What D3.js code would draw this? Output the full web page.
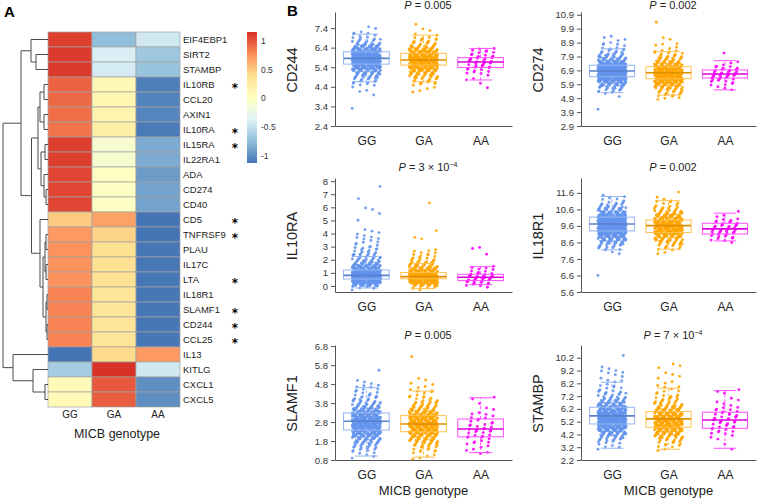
<!DOCTYPE html>
<html>
<head>
<meta charset="utf-8">
<script src="https://cdn.jsdelivr.net/npm/d3@7/dist/d3.min.js"></script>
<style>
  body { margin: 0; background: #fff; }
  svg { font-family: "Liberation Sans", Arial, Helvetica, sans-serif; }
</style>
</head>
<body>
<svg id="fig" width="758" height="498"></svg>
<script>
// ---------- panel A data ----------
const genotypes = ["GG", "GA", "AA"];
const rowGenes = ["EIF4EBP1", "SIRT2", "STAMBP", "IL10RB", "CCL20", "AXIN1", "IL10RA", "IL15RA", "IL22RA1",
  "ADA", "CD274", "CD40", "CD5", "TNFRSF9", "PLAU", "IL17C", "LTA", "IL18R1", "SLAMF1", "CD244", "CCL25",
  "IL13", "KITLG", "CXCL1", "CXCL5"];
// row-scaled expression (z) per genotype
const ggZ = [1.1, 1.12, 1.12, 0.95, 0.93, 0.9, 0.88, 1.1, 1.1, 1.07, 1.07, 1.07, 0.5, 0.72, 0.75, 0.75, 0.75,
  0.82, 0.82, 0.82, 0.82, -1.13, -0.65, 0.08, 0.08];
const gaZ = [-0.75, -0.4, -0.42, 0.1, 0.12, 0.15, 0.22, -0.1, -0.1, 0.0, -0.02, -0.02, 0.68, 0.45, 0.38, 0.38, 0.38,
  0.33, 0.33, 0.33, 0.33, 0.42, 1.15, 1.0, 0.98];
const aaZ = [-0.45, -0.68, -0.72, -1.08, -1.06, -1.05, -1.1, -0.85, -0.85, -0.93, -0.9, -0.9, -1.13, -1.13, -1.12,
  -1.12, -1.12, -1.12, -1.12, -1.12, -1.12, 0.72, -0.45, -1.0, -1.0];
const starredGenes = ["IL10RB", "IL10RA", "IL15RA", "CD5", "TNFRSF9", "LTA", "SLAMF1", "CD244", "CCL25"];
const legendTicks = [1, 0.5, 0, -0.5, -1];
const zRange = [-1.13, 1.16];
const heatPalette = ["#4575B4", "#91BFDB", "#E0F3F8", "#FFFFBF", "#FEE090", "#FC8D59", "#D73027"];
// row clustering: [height, left, right], leaves are gene names
const rowTree = [45,
  [27,
    [17, "EIF4EBP1", [12, "SIRT2", "STAMBP"]],
    [16.5,
      [10,
        [8, [4, "IL10RB", "CCL20"], [4, "AXIN1", "IL10RA"]],
        [7, [3, "IL15RA", "IL22RA1"], [4, "ADA", [2, "CD274", "CD40"]]]],
      [8, "CD5",
        [5, [3, [2, "TNFRSF9", "PLAU"], [2, "IL17C", "LTA"]],
          [2, [1, "IL18R1", "SLAMF1"], [1, "CD244", "CCL25"]]]]]],
  [35, "IL13", [15, "KITLG", [3, "CXCL1", "CXCL5"]]]];

// ---------- panel B data ----------
const panelGenes = ["CD244", "CD274", "IL10RA", "IL18R1", "SLAMF1", "STAMBP"];
const panelP = [["0.005", ""], ["0.002", ""], ["3 × 10", "−4"], ["0.002", ""], ["0.005", ""], ["7 × 10", "−4"]];
const panelTickFirst = [2.4, 2.9, 0, 5.6, 0.8, 2.2];
const panelTickLast = [7.4, 10.9, 8, 11.6, 6.8, 10.2];
const panelTickDigits = [1, 1, 0, 1, 1, 1];
const panelYDomain = [[2.4, 8.22], [2.9, 11.1], [-0.46, 8.24], [5.6, 12.5], [0.8, 6.86], [2.2, 11.2]];
// samples counted in value bins: bin centre = start + i * step
const binStart = [3.3, 4.1, -0.3, 6.6, 0.9, 3.05];
const binStep = [0.15, 0.2, 0.2, 0.2, 0.15, 0.25];

const cd244Counts = [
  [1,0,0,0,0,1,2,1,3,5,8,11,16,23,34,46,52,53,48,40,30,20,13,8,5,3,2,1,1,0],
  [0,0,0,0,0,0,2,2,3,6,8,11,16,22,30,36,40,38,33,27,20,14,9,6,4,2,1,1,0,1],
  [0,0,0,0,0,0,0,1,0,1,2,1,3,4,5,6,7,6,5,4,4]];
const cd274Counts = [
  [1,0,0,0,0,1,3,6,12,20,30,42,52,58,56,48,38,28,20,14,9,6,4,3,2,2,2],
  [0,0,0,0,3,5,7,10,16,22,30,36,40,40,36,30,22,16,11,8,5,4,2,2,1,1,1,0,0,0,0,1],
  [0,0,0,0,0,0,0,1,2,3,4,6,8,8,6,4,2,2,0,0,1]];
const il10raCounts = [
  [1,6,25,45,65,70,60,45,32,24,17,13,10,8,6,5,4,3,3,2,3,2,2,1,0,0,0,1,0,1,0,2,0,0,0,1,0,0,0,1],
  [1,5,20,38,55,60,45,30,20,14,10,8,6,4,3,3,0,0,0,1,1,0,0,1,0,0,0,0,0,0,0,0,0,1],
  [0,1,4,7,9,10,6,3,3,2,0,0,0,0,1,0,2]];
const il18r1Counts = [
  [1,0,0,0,0,0,0,2,5,9,15,23,33,43,52,57,55,48,38,27,18,11,6,4,3],
  [0,0,0,0,0,0,0,2,4,7,12,18,25,32,38,40,36,30,22,15,10,6,4,2,1,1],
  [0,0,0,0,0,0,0,0,0,0,1,4,6,8,9,8,6,4,2,1]];
const slamf1Counts = [
  [1,2,3,5,7,10,14,19,24,30,35,39,41,40,37,32,27,21,16,12,9,6,5,4,3,3,2,2,0,0,0,1],
  [2,2,3,4,6,8,12,16,20,25,29,32,33,31,28,24,19,15,11,8,6,4,3,3,2,2,2,1,1,0,0,0,0,0,0,0,1],
  [0,0,2,2,2,2,3,3,4,4,5,4,3,3,3,2,2,1,1,1,0,2]];
const stambpCounts = [
  [1,3,5,8,14,21,29,37,43,46,45,42,36,29,22,16,11,8,6,4,3,2,2,2,3,2,1,0,0,1],
  [2,4,6,9,14,20,26,31,34,34,31,26,21,15,11,8,6,4,3,2,2,2,1,2,1,1,1,1],
  [1,0,1,1,2,3,4,5,5,6,5,5,4,3,2,2,1,1,1,1]];

// box stats per genotype: [lower whisker, q1, median, q3, upper whisker]
const cd244Box = [[4.66, 5.56, 5.85, 6.19, 7.09], [4.66, 5.51, 5.77, 6.11, 7.04], [4.75, 5.39, 5.67, 5.89, 6.36]];
const cd274Box = [[5.3, 6.45, 6.86, 7.27, 8.45], [5.13, 6.3, 6.73, 7.17, 8.25], [5.5, 6.35, 6.64, 6.93, 7.6]];
const il10raBox = [[-0.15, 0.53, 0.81, 1.22, 2.25], [-0.2, 0.55, 0.71, 1.02, 1.72], [0.1, 0.41, 0.66, 0.89, 1.47]];
const il18r1Box = [[8.15, 9.3, 9.72, 10.13, 11.38], [8.19, 9.2, 9.62, 9.96, 11.13], [8.69, 9.11, 9.42, 9.76, 10.37]];
const slamf1Box = [[1.01, 2.38, 2.84, 3.28, 4.61], [0.95, 2.29, 2.7, 3.14, 4.43], [1.19, 2.02, 2.43, 2.96, 4.08]];
const stambpBox = [[3.12, 5.02, 5.65, 6.33, 8.29], [3.04, 4.76, 5.42, 5.99, 7.82], [3.12, 4.68, 5.33, 5.94, 7.63]];

const genoColors = ["#6495ED", "#FFA500", "#FF00FF"];

const svg = d3.select("#fig");

// ================= A: heatmap =================
const heatLeft = 48, heatTop = 32, cellW = 44, cellH = 15;
const xHeat = d3.scaleBand().domain(genotypes).range([heatLeft, heatLeft + 3 * cellW]);
const yHeat = d3.scaleBand().domain(rowGenes).range([heatTop, heatTop + rowGenes.length * cellH]);
const heatColor = d3.scaleLinear()
  .domain(heatPalette.map((c, i) => zRange[0] + i * (zRange[1] - zRange[0]) / (heatPalette.length - 1)))
  .range(heatPalette);

svg.append("text").attr("x", 4).attr("y", 17)
  .attr("font-size", 15).attr("font-weight", "bold").text("A");
svg.append("text").attr("x", 287).attr("y", 16)
  .attr("font-size", 15).attr("font-weight", "bold").text("B");

const zCols = [ggZ, gaZ, aaZ];
const cells = [];
rowGenes.forEach((g, i) => genotypes.forEach((t, j) => cells.push({ gene: g, geno: t, z: zCols[j][i] })));

svg.append("g").selectAll("rect")
  .data(cells)
  .enter()
  .append("rect")
  .attr("x", d => xHeat(d.geno))
  .attr("y", d => yHeat(d.gene))
  .attr("width", xHeat.bandwidth())
  .attr("height", yHeat.bandwidth())
  .attr("fill", d => heatColor(d.z))
  .attr("stroke", "#a3a3a3")
  .attr("stroke-width", 0.7);

svg.append("g").selectAll("text")
  .data(rowGenes)
  .enter()
  .append("text")
  .attr("x", heatLeft + 3 * cellW + 3)
  .attr("y", d => yHeat(d) + cellH / 2)
  .attr("dy", "0.35em")
  .attr("font-size", 9.5)
  .attr("fill", "#222")
  .text(d => d);

// significance marks
svg.append("g").selectAll("text")
  .data(starredGenes)
  .enter()
  .append("text")
  .attr("x", 235)
  .attr("y", d => yHeat(d) + cellH / 2 + 7)
  .attr("text-anchor", "middle")
  .attr("font-family", '"DejaVu Sans", sans-serif')
  .attr("font-size", 12)
  .attr("font-weight", "bold")
  .text("*");

svg.append("g").selectAll("text")
  .data(genotypes)
  .enter()
  .append("text")
  .attr("x", d => xHeat(d) + cellW / 2)
  .attr("y", 418)
  .attr("text-anchor", "middle")
  .attr("font-size", 10)
  .attr("fill", "#222")
  .text(d => d);

svg.append("text").attr("x", 117).attr("y", 438)
  .attr("text-anchor", "middle").attr("font-size", 12.5).attr("fill", "#222")
  .text("MICB genotype");

// dendrogram
const treeRoot = d3.hierarchy(rowTree, d => Array.isArray(d) ? d.slice(1) : null);
const xDen = d3.scaleLinear().domain([0, rowTree[0]]).range([heatLeft, 3]);
treeRoot.eachAfter(n => {
  if (!n.children) {
    n.py = yHeat(n.data) + cellH / 2;
    n.px = xDen(0);
  } else {
    n.py = d3.mean(n.children, c => c.py);
    n.px = xDen(n.data[0]);
  }
});
svg.append("g").selectAll("path")
  .data(treeRoot.descendants().filter(n => n.children))
  .enter()
  .append("path")
  .attr("d", n => {
    let [a, b] = n.children;
    return `M${a.px},${a.py}H${n.px}V${b.py}H${b.px}`;
  })
  .attr("fill", "none")
  .attr("stroke", "#4a4a4a")
  .attr("stroke-width", 1);

// colour legend
const legY = d3.scaleLinear().domain(zRange).range([163, 32]);
const grad = svg.append("defs").append("linearGradient")
  .attr("id", "heatgrad").attr("x1", 0).attr("y1", 1).attr("x2", 0).attr("y2", 0);
heatPalette.forEach((c, i) => grad.append("stop")
  .attr("offset", i / (heatPalette.length - 1)).attr("stop-color", c));
svg.append("rect").attr("x", 247).attr("y", legY(zRange[1]))
  .attr("width", 10).attr("height", legY(zRange[0]) - legY(zRange[1]))
  .attr("fill", "url(#heatgrad)");
svg.append("g").selectAll("text")
  .data(legendTicks)
  .enter()
  .append("text")
  .attr("x", 261)
  .attr("y", d => legY(d))
  .attr("dy", "0.35em")
  .attr("font-size", 8.5)
  .attr("fill", "#333")
  .text(d => d);

// ================= B: box plots =================
const panelCounts = [cd244Counts, cd274Counts, il10raCounts, il18r1Counts, slamf1Counts, stambpCounts];
const panelBoxes = [cd244Box, cd274Box, il10raBox, il18r1Box, slamf1Box, stambpBox];
const colLeft = [335, 581], colRight = [512, 756], colTitle = [428, 673];
const rowTop = [12, 178, 345], rowBottom = [126, 292, 460], rowTitle = [9, 171, 339];

panelGenes.forEach((gene, p) => {
  let col = p % 2, row = Math.floor(p / 2);
  let left = colLeft[col], right = colRight[col], top = rowTop[row], bottom = rowBottom[row];

  let x = d3.scalePoint().domain(genotypes).range([left, right]).padding(0.55);
  let y = d3.scaleLinear().domain(panelYDomain[p]).range([bottom, top]);
  let g = svg.append("g");

  // points, one per sample; jittered across the group width and within the bin height
  panelCounts[p].forEach((counts, k) => {
    let pts = [];
    let n = 0;
    counts.forEach((c, b) => {
      for (let i = 0; i < c; i++) pts.push({ v: binStart[p] + b * binStep[p], n: n++ });
    });
    g.append("g").selectAll("circle")
      .data(pts)
      .enter()
      .append("circle")
      .attr("cx", d => x(genotypes[k]) + ((d.n * 0.7548777 + k * 0.37) % 1 - 0.5) * 0.5 * x.step())
      .attr("cy", d => y(d.v + ((d.n * 0.5698403 + 0.5) % 1 - 0.5) * binStep[p]))
      .attr("r", 1.45)
      .attr("fill", genoColors[k])
      .attr("fill-opacity", 0.9);
  });

  // boxes drawn over the points
  panelBoxes[p].forEach((s, k) => {
    let cx = x(genotypes[k]), hw = 0.4 * x.step(), sw = 0.2 * x.step();
    let light = d3.interpolateRgb(genoColors[k], "#ffffff")(0.3);
    let bg = g.append("g").attr("stroke", light).attr("fill", "none").attr("stroke-width", 1);
    bg.append("line").attr("x1", cx).attr("x2", cx).attr("y1", y(s[3])).attr("y2", y(s[4]))
      .attr("stroke-dasharray", "3,2");
    bg.append("line").attr("x1", cx).attr("x2", cx).attr("y1", y(s[1])).attr("y2", y(s[0]))
      .attr("stroke-dasharray", "3,2");
    bg.append("line").attr("x1", cx - sw).attr("x2", cx + sw).attr("y1", y(s[4])).attr("y2", y(s[4]));
    bg.append("line").attr("x1", cx - sw).attr("x2", cx + sw).attr("y1", y(s[0])).attr("y2", y(s[0]));
    bg.append("rect").attr("x", cx - hw).attr("width", 2 * hw)
      .attr("y", y(s[3])).attr("height", y(s[1]) - y(s[3]));
    g.append("line").attr("x1", cx - hw).attr("x2", cx + hw).attr("y1", y(s[2])).attr("y2", y(s[2]))
      .attr("stroke", d3.color(genoColors[k]).darker(0.4)).attr("stroke-width", 1.6);
  });

  // axes
  let ticks = d3.range(panelTickFirst[p], panelTickLast[p] + 1e-6, 1);
  let yAxis = g.append("g").attr("transform", `translate(${left},0)`)
    .call(d3.axisLeft(y).tickValues(ticks).tickSize(4).tickSizeOuter(0).tickPadding(3)
      .tickFormat(d3.format(`.${panelTickDigits[p]}f`)));
  let xAxis = g.append("g").attr("transform", `translate(0,${bottom})`)
    .call(d3.axisBottom(x).tickSize(0).tickSizeOuter(0).tickPadding(10));
  [yAxis, xAxis].forEach(a => {
    a.selectAll("path, line").attr("stroke", "#555");
    a.selectAll("text").attr("fill", "#333").attr("font-family", null);
  });
  yAxis.selectAll("text").attr("font-size", 9.5);
  xAxis.selectAll("text").attr("font-size", 12).attr("fill", "#222");

  // gene label
  g.append("text")
    .attr("transform", `translate(${left - 43},${(top + bottom) / 2 + 1}) rotate(-90)`)
    .attr("text-anchor", "middle")
    .attr("dy", "0.35em")
    .attr("font-size", 14.5)
    .attr("fill", "#222")
    .text(gene);

  // P value title
  let t = g.append("text").attr("x", colTitle[col]).attr("y", rowTitle[row])
    .attr("text-anchor", "middle").attr("font-size", 11).attr("fill", "#222");
  t.append("tspan").attr("font-style", "italic").text("P");
  t.append("tspan").text(" = " + panelP[p][0]);
  if (panelP[p][1]) {
    t.append("tspan").attr("font-size", 7).attr("dy", -4).text(panelP[p][1]);
  }

  if (row === 2) {
    g.append("text").attr("x", (left + right) / 2).attr("y", 495)
      .attr("text-anchor", "middle").attr("font-size", 13).attr("fill", "#222")
      .text("MICB genotype");
  }
});
</script>
</body>
</html>
